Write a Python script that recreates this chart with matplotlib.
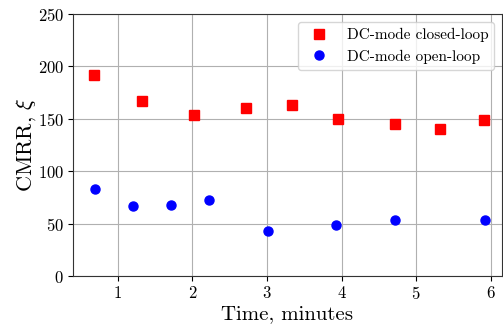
import matplotlib
matplotlib.use('Agg')
import matplotlib.pyplot as plt

plt.rcParams['font.family'] = 'serif'
plt.rcParams['font.serif'] = ['cmr10']
plt.rcParams['mathtext.fontset'] = 'cm'
plt.rcParams['axes.formatter.use_mathtext'] = True

# closed-loop measurements
t_closed = [0.68, 1.32, 2.02, 2.72, 3.33, 3.95, 4.71, 5.32, 5.91]
cmrr_closed = [192, 167, 154, 160, 163, 150, 145, 140, 149]

# open-loop measurements
t_open = [0.69, 1.21, 1.71, 2.22, 3.01, 3.92, 4.72, 5.92]
cmrr_open = [83, 67, 67.5, 72.5, 43, 49, 53, 53.5]

fig = plt.figure(figsize=(5.03, 3.24), dpi=100)
ax = fig.add_axes([0.145, 0.148, 0.853, 0.809])

ax.plot(t_closed, cmrr_closed, 's', color='red', markersize=6.5, label='DC-mode closed-loop')
ax.plot(t_open, cmrr_open, 'o', color='blue', markersize=6.5, label='DC-mode open-loop')

ax.set_ylim(0, 250)
ax.set_xlim(0.4, 6.15)
ax.grid(True, color='#b0b0b0', linewidth=0.8)
ax.set_axisbelow(True)
for s in ax.spines.values():
    s.set_color('#333333')
ax.tick_params(labelsize=12, pad=3)
ax.set_xlabel('Time, minutes', fontsize=15, labelpad=2)
ax.set_ylabel(r'CMRR, $\xi$', fontsize=16, labelpad=0)
ax.legend(loc='upper right', fontsize=11)

fig.savefig('out.png', dpi=100)
